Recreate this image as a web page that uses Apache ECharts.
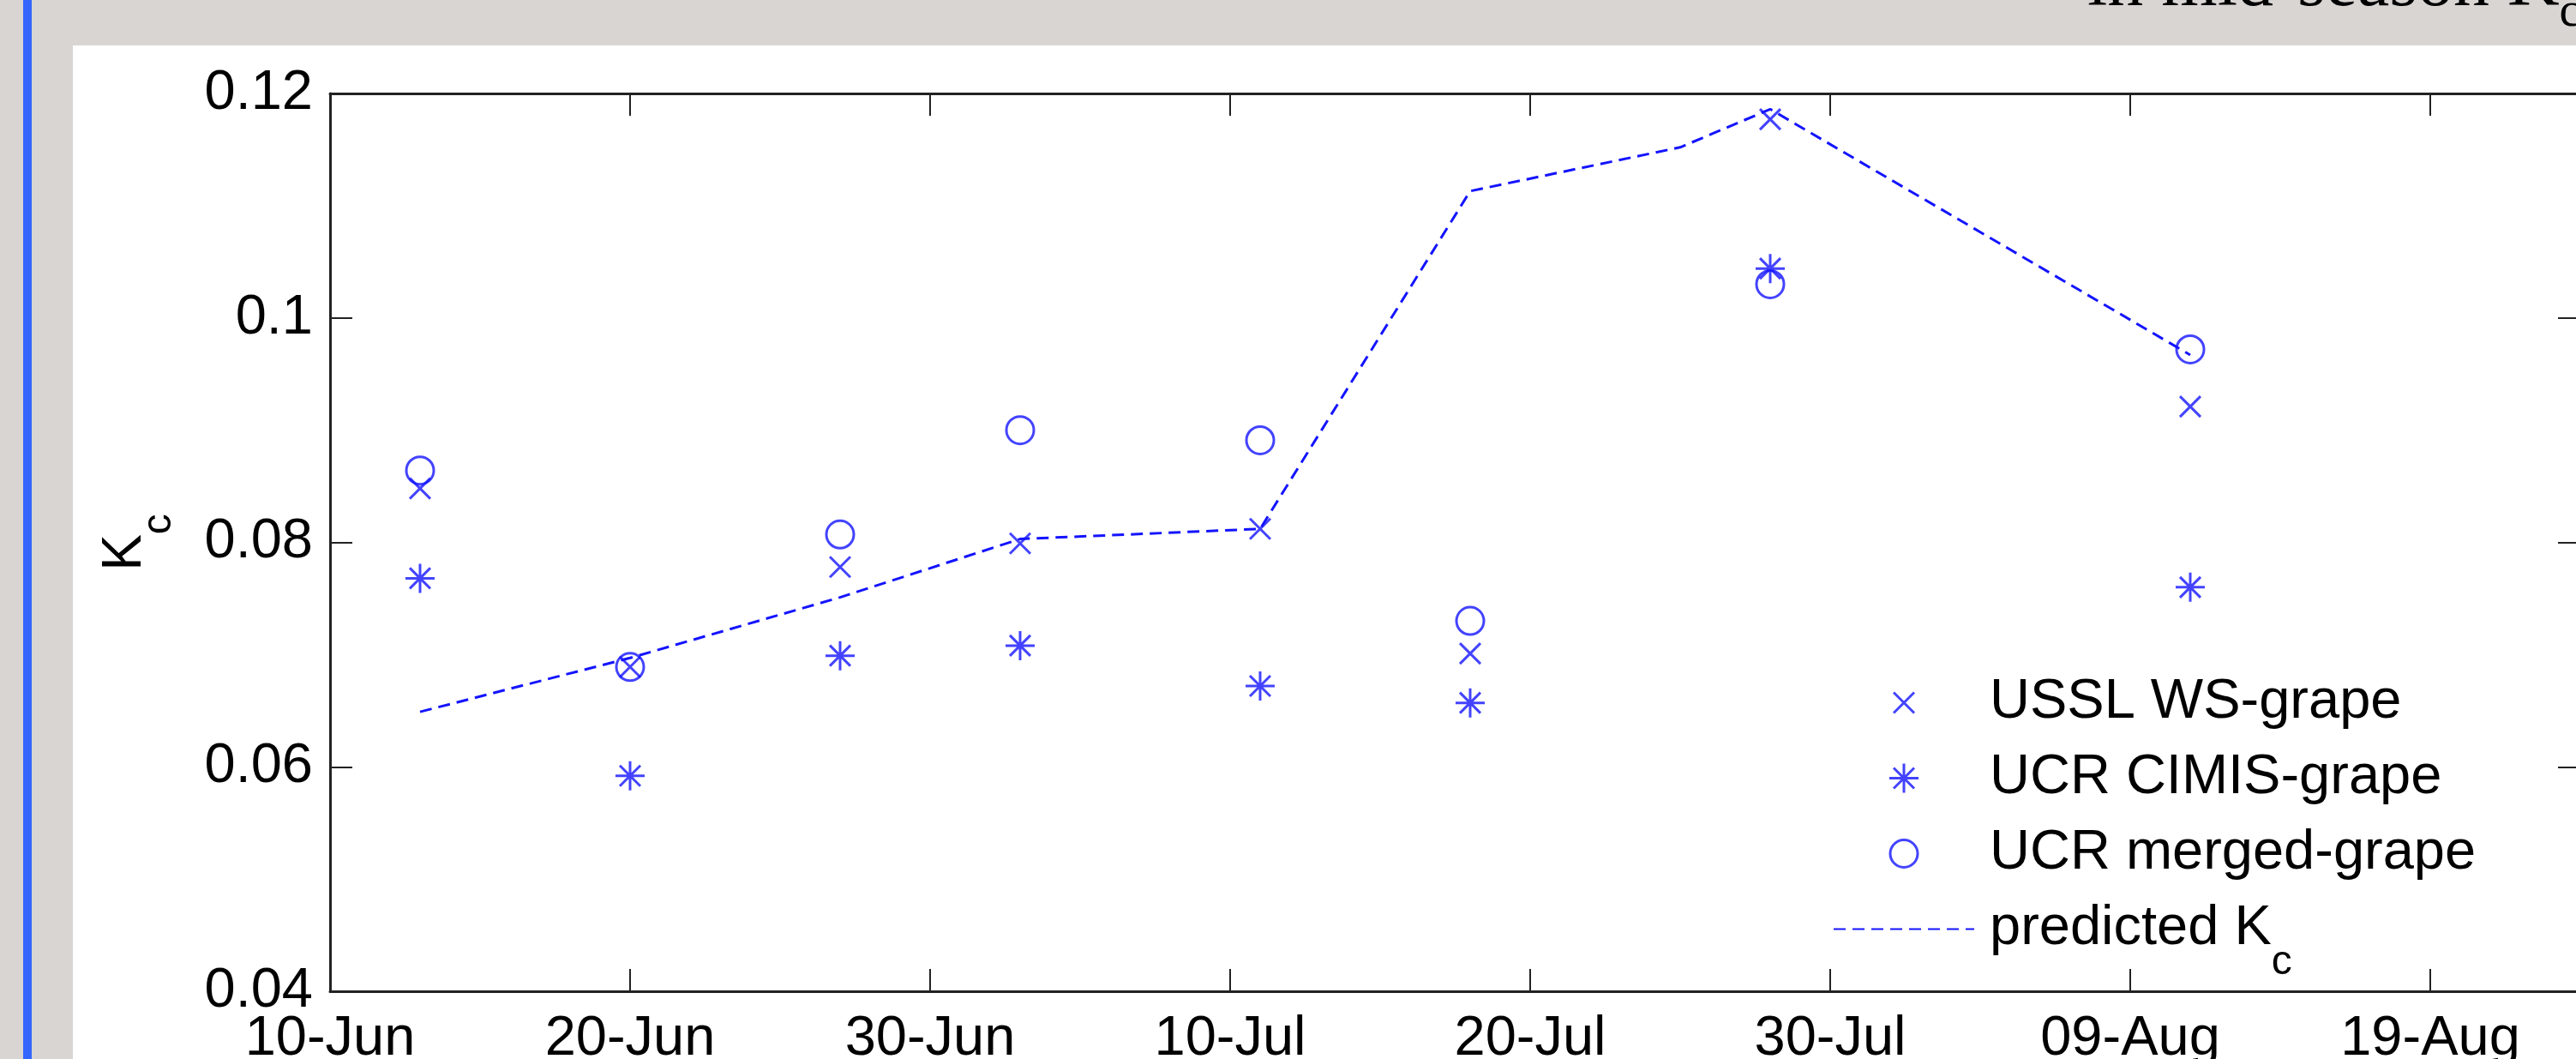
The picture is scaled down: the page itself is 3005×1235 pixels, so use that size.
<!DOCTYPE html>
<html>
<head>
<meta charset="utf-8">
<script src="https://cdn.jsdelivr.net/npm/echarts@6/dist/echarts.min.js"></script>
<style>
html,body{margin:0;padding:0;background:#d8d5d3;overflow:hidden;}
#chart{width:3005px;height:1235px;}
</style>
</head>
<body>
<div id="chart"></div>
<script>
// ---- data ----
const xTickLabels = ['10-Jun', '20-Jun', '30-Jun', '10-Jul', '20-Jul', '30-Jul', '09-Aug', '19-Aug'];
const yTickValues = [0.04, 0.06, 0.08, 0.10, 0.12];

const obsDates  = ['13-Jun', '20-Jun', '27-Jun', '03-Jul', '11-Jul', '18-Jul', '28-Jul', '11-Aug'];
const usslWS    = [0.0848, 0.0689, 0.0778, 0.0799, 0.0812, 0.0701, 0.1177, 0.0921];
const ucrCIMIS  = [0.0768, 0.0592, 0.0699, 0.0708, 0.0672, 0.0657, 0.1044, 0.0760];
const ucrMerged = [0.0864, 0.0689, 0.0807, 0.0900, 0.0891, 0.0730, 0.1030, 0.0972];

const predDates = ['13-Jun', '20-Jun', '27-Jun', '03-Jul', '11-Jul', '18-Jul', '25-Jul', '28-Jul', '11-Aug'];
const predKc    = [0.0649, 0.0697, 0.0751, 0.0803, 0.0812, 0.1113, 0.1152, 0.1186, 0.0967];

const seriesNames = ['USSL WS-grape', 'UCR CIMIS-grape', 'UCR merged-grape', 'predicted Kc'];

// ---- helpers ----
const monthStart = { Jun: 0, Jul: 30, Aug: 61 }; // day offsets from 1-Jun
function dayOffset(s) { // days after 10-Jun
  const [d, m] = s.split('-');
  return monthStart[m] + parseInt(d, 10) - 10;
}
function pairs(dates, vals) { return dates.map((d, i) => [dayOffset(d), vals[i]]); }

const BLUE = '#1414ff';
const FONT = "'Liberation Sans', Arial, Helvetica, sans-serif";
const CROSS = 'path://M-12,-12L12,12M12,-12L-12,12M-17,-17M17,17';
const STAR  = 'path://M0,-17L0,17M-17,0L17,0M-12,-12L12,12M12,-12L-12,12M-17,-17M17,17';
const CIRC  = 'path://M16,0A16,16,0,1,1,-16,0A16,16,0,1,1,16,0M-17,-17M17,17';

const markerStyle = { color: 'none', borderColor: BLUE, borderWidth: 3 };
const subB = { fontSize: 48, lineHeight: 10, fontFamily: FONT, color: '#000', verticalAlign: 'top', padding: [47.6, 0, 0, 0] };

const chart = echarts.init(document.getElementById('chart'), null, { renderer: 'canvas' });

const axisLineStyle = { color: '#222', width: 3 };
const tickStyle = { color: '#222', width: 2 };

const option = {
  backgroundColor: '#d8d5d3',
  animation: false,
  graphic: {
    elements: [
      { type: 'rect', z: -10, silent: true, shape: { x: 85, y: 53, width: 2930, height: 1190 }, style: { fill: '#ffffff' } },
      { type: 'rect', z: -10, silent: true, shape: { x: 27, y: 0, width: 10, height: 1235 }, style: { fill: '#3366ff' } },
      { type: 'text', z: 10, silent: true, x: 2435, y: -58.4,
        style: {
          text: '{a|in mid-season K}{b|c}', verticalAlign: 'top',
          rich: {
            a: { fontSize: 84, lineHeight: 84, fontFamily: "'Liberation Serif', 'Times New Roman', serif", fill: '#000', color: '#000' },
            b: { fontSize: 56, lineHeight: 10, fontFamily: "'Liberation Serif', 'Times New Roman', serif", fill: '#000', color: '#000', verticalAlign: 'top', padding: [45.5, 0, 0, 0] }
          }
        }
      }
    ]
  },
  grid: { left: 385, right: -5, top: 109, bottom: 79, containLabel: false, outerBoundsMode: 'none' },
  xAxis: [
    {
      type: 'value', position: 'bottom', min: 0, max: 75, interval: 10,
      axisLine: { show: true, onZero: false, lineStyle: axisLineStyle },
      axisTick: { show: true, inside: true, length: 26, lineStyle: tickStyle },
      splitLine: { show: false },
      axisLabel: {
        fontSize: 65, fontFamily: FONT, color: '#000', margin: 24,
        formatter: v => { const i = Math.round(v / 10); return (Math.abs(v - i * 10) < 1e-6 && xTickLabels[i]) || ''; }
      }
    },
    {
      type: 'value', position: 'top', min: 0, max: 75, interval: 10,
      axisLine: { show: true, onZero: false, lineStyle: axisLineStyle },
      axisTick: { show: true, inside: true, length: 26, lineStyle: tickStyle },
      splitLine: { show: false },
      axisLabel: { show: false }
    }
  ],
  yAxis: [
    {
      type: 'value', position: 'left', min: 0.04, max: 0.12, interval: 0.02,
      axisLine: { show: true, onZero: false, lineStyle: axisLineStyle },
      axisTick: { show: true, inside: true, length: 26, lineStyle: tickStyle },
      splitLine: { show: false },
      axisLabel: {
        fontSize: 65, fontFamily: FONT, color: '#000', margin: 20,
        formatter: v => { const t = yTickValues.find(x => Math.abs(x - v) < 1e-9); return t === undefined ? '' : String(+t.toFixed(2)); }
      },
      name: '{a|K}{b|c}', nameLocation: 'middle', nameRotate: 90, nameGap: 207,
      nameTextStyle: { rich: { a: { fontSize: 64, lineHeight: 64, fontFamily: FONT, color: '#000' }, b: subB } }
    },
    {
      type: 'value', position: 'right', min: 0.04, max: 0.12, interval: 0.02,
      axisLine: { show: true, onZero: false, lineStyle: axisLineStyle },
      axisTick: { show: true, inside: true, length: 26, lineStyle: tickStyle },
      splitLine: { show: false },
      axisLabel: { show: false }
    }
  ],
  legend: {
    orient: 'vertical', left: 2138, top: 787, padding: 0,
    itemWidth: 164, itemHeight: 34, itemGap: 23,
    selectedMode: false,
    data: [
      seriesNames[0], seriesNames[1], seriesNames[2],
      { name: seriesNames[3], itemStyle: { color: 'transparent', borderColor: 'transparent', borderWidth: 0, opacity: 0 } }
    ],
    itemStyle: { borderWidth: 3 },
    formatter: n => n === 'predicted Kc' ? '{a|predicted K}{b|c}' : '{a|' + n + '}',
    textStyle: {
      rich: {
        a: { fontSize: 65, lineHeight: 64, fontFamily: FONT, color: '#000', padding: [0, 0, 0, 13] },
        b: subB
      }
    }
  },
  series: [
    {
      name: seriesNames[3], type: 'line', z: 2, silent: true,
      data: pairs(predDates, predKc), symbol: 'none',
      itemStyle: { color: BLUE },
      lineStyle: { color: BLUE, width: 3, type: [14, 8] }
    },
    {
      name: seriesNames[0], type: 'scatter', z: 3, silent: true,
      data: pairs(obsDates, usslWS), symbol: CROSS, symbolSize: 34, itemStyle: markerStyle
    },
    {
      name: seriesNames[1], type: 'scatter', z: 3, silent: true,
      data: pairs(obsDates, ucrCIMIS), symbol: STAR, symbolSize: 34, itemStyle: markerStyle
    },
    {
      name: seriesNames[2], type: 'scatter', z: 3, silent: true,
      data: pairs(obsDates, ucrMerged), symbol: CIRC, symbolSize: 34, itemStyle: markerStyle
    }
  ]
};
chart.setOption(option);
</script>
</body>
</html>
